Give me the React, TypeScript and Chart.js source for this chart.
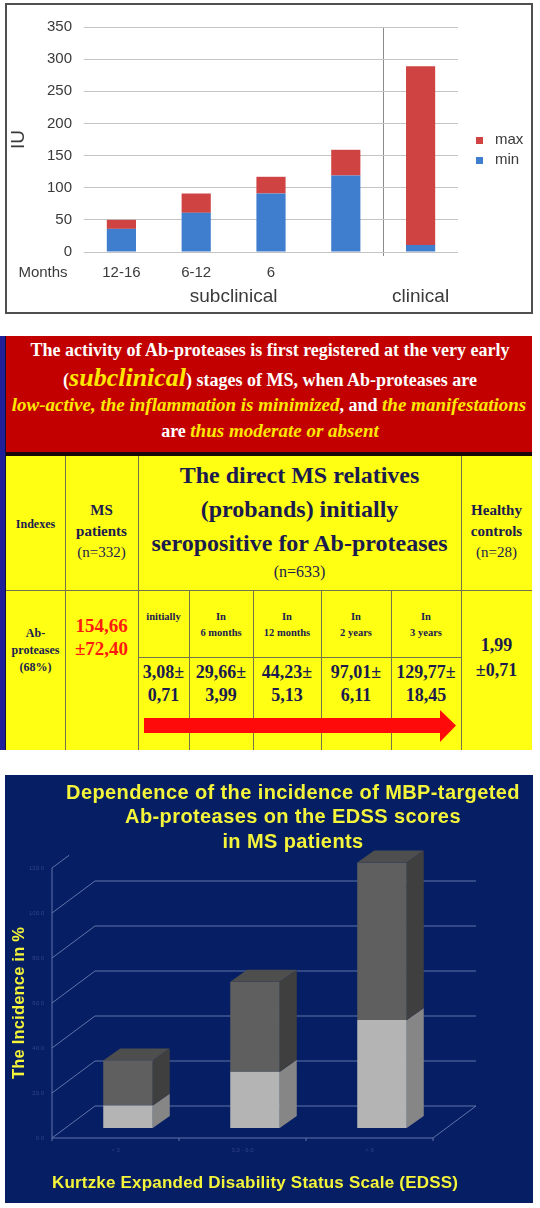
import React, { useEffect, useRef } from "react";
import { Chart, registerables } from "chart.js";

Chart.register(...registerables);

// ---------------- Top chart data ----------------
const stageLabels = ["12-16", "6-12", "6", "", ""];
const minSeries = [36, 61, 91, 119, 11];
const maxSeries = [14, 30, 26, 40, 278]; // stacked on top of min
const seriesNames = ["min", "max"];
const iuTickMax = 350;
const iuTickStep = 50;
const axisLeadLabel = "Months";
const phaseLabels = ["subclinical", "clinical"];
const iuTitle = "IU";

// ---------------- Table data ----------------
const headerLine1 = "The activity of Ab-proteases is first registered at the very early";
const periodLabels = [["initially"], ["In", "6 months"], ["In", "12 months"], ["In", "2 years"], ["In", "3 years"]];
const periodValues = [["3,08±", "0,71"], ["29,66±", "3,99"], ["44,23±", "5,13"], ["97,01±", "6,11"], ["129,77±", "18,45"]];
const msPatientsValue = ["154,66", "±72,40"];
const controlsValue = ["1,99", "±0,71"];
const relativesTitle = ["The direct MS relatives", "(probands) initially", "seropositive for Ab-proteases"];

// ---------------- EDSS chart data ----------------
const edssLabels = ["< 3", "3.0 - 6.0", "> 6"];
const edssLower = [10, 25, 48];
const edssUpper = [20, 40, 70];
const edssTicks = [0, 20, 40, 60, 80, 100, 120];
const edssTitle = ["Dependence of the incidence of MBP-targeted", "Ab-proteases on the EDSS scores", "in MS patients"];
const edssYTitle = "The Incidence in %";
const edssXTitle = "Kurtzke Expanded Disability Status Scale (EDSS)";

const SANS = "'Liberation Sans', Arial, sans-serif";
const SERIF = "'Liberation Serif', 'Times New Roman', serif";
const RED = "#cf4343";
const BLUE = "#3f7ecf";

function IUChart() {
  const ref = useRef<HTMLCanvasElement>(null);
  useEffect(() => {
    const extras = {
      id: "iuExtras",
      afterDraw(chart: any) {
        const { ctx, chartArea, scales } = chart;
        const x = scales.x;
        ctx.save();
        ctx.fillStyle = "#3a3a3a";
        ctx.textBaseline = "middle";
        ctx.textAlign = "center";
        ctx.font = `15px ${SANS}`;
        ctx.fillText(axisLeadLabel, 36, chartArea.bottom + 21);
        ctx.font = `19px ${SANS}`;
        const c0 = x.getPixelForValue(0);
        const c3 = x.getPixelForValue(3);
        const c4 = x.getPixelForValue(4);
        ctx.fillText(phaseLabels[0], (c0 + c3) / 2, chartArea.bottom + 45);
        ctx.fillText(phaseLabels[1], c4, chartArea.bottom + 45);
        // legend (max above min)
        const ds = [...chart.data.datasets].reverse();
        ctx.textAlign = "left";
        ctx.font = `15px ${SANS}`;
        ds.forEach((d: any, i: number) => {
          const yy = 135 + i * 20;
          ctx.fillStyle = d.backgroundColor;
          ctx.fillRect(469, yy - 3, 7, 7);
          ctx.fillStyle = "#3a3a3a";
          ctx.fillText(d.label, 488, yy);
        });
        ctx.restore();
      },
    };
    const chart = new Chart(ref.current!, {
      type: "bar",
      data: {
        labels: stageLabels,
        datasets: [
          { label: seriesNames[0], data: minSeries, backgroundColor: BLUE, barPercentage: 0.39, categoryPercentage: 1 },
          { label: seriesNames[1], data: maxSeries, backgroundColor: RED, barPercentage: 0.39, categoryPercentage: 1 },
        ],
      },
      options: {
        responsive: false,
        animation: false,
        layout: { padding: { right: 73, top: 22 } },
        plugins: { legend: { display: false }, tooltip: { enabled: false } },
        scales: {
          x: {
            stacked: true,
            grid: {
              color: (c: any) => (c.index === 4 ? "#8a8a8a" : "rgba(0,0,0,0)"),
              drawTicks: true,
              tickLength: 4,
            },
            border: { display: false },
            ticks: { color: "#3a3a3a", font: { size: 15, family: SANS }, padding: 8, maxRotation: 0 },
            afterFit: (s: any) => {
              s.height = 60;
            },
          },
          y: {
            stacked: true,
            min: 0,
            max: iuTickMax,
            ticks: { stepSize: iuTickStep, color: "#3a3a3a", font: { size: 15, family: SANS }, padding: 12 },
            grid: { color: "#c4c4c4", drawTicks: false },
            border: { display: false },
            title: { display: true, text: iuTitle, color: "#3a3a3a", font: { size: 19, family: SANS }, padding: 0 },
            afterFit: (s: any) => {
              s.width = 77;
            },
          },
        },
      },
      plugins: [extras],
    });
    return () => chart.destroy();
  }, []);
  return <canvas ref={ref} width={524} height={307} style={{ width: 524, height: 307, display: "block" }} />;
}

function EDSSChart() {
  const ref = useRef<HTMLCanvasElement>(null);
  useEffect(() => {
    const FRONT = { dx: -12.5, dy: 10 };
    const BACK = { dx: 30.5, dy: -22 };
    const BAR_D = { dx: 17, dy: -12 };
    const line = (ctx: any, x1: number, y1: number, x2: number, y2: number) => {
      ctx.beginPath();
      ctx.moveTo(x1, y1);
      ctx.lineTo(x2, y2);
      ctx.stroke();
    };
    const threeD = {
      id: "threeD",
      beforeDatasetsDraw(chart: any) {
        const { ctx, chartArea: a, scales } = chart;
        const y = scales.y;
        ctx.save();
        ctx.strokeStyle = "#6174ab";
        ctx.lineWidth = 1;
        ctx.font = `6px ${SANS}`;
        ctx.textAlign = "right";
        ctx.textBaseline = "middle";
        edssTicks.forEach((v, i) => {
          const yp = y.getPixelForValue(v);
          const fx = a.left + FRONT.dx;
          const fy = yp + FRONT.dy;
          const bx = a.left + BACK.dx;
          const by = yp + BACK.dy;
          const last = i === edssTicks.length - 1;
          const k = last ? 0.4 : 1;
          line(ctx, fx, fy, fx + (bx - fx) * k, fy + (by - fy) * k);
          if (!last) line(ctx, bx, by, a.right + BACK.dx, by);
          ctx.fillStyle = "#31438a";
          ctx.fillText(v.toFixed(1), fx - 8, fy);
        });
        const y0 = y.getPixelForValue(0);
        const yTop = y.getPixelForValue(edssTicks[edssTicks.length - 1]);
        const fl = a.left + FRONT.dx;
        const fr = a.right + FRONT.dx;
        line(ctx, fl, y0 + FRONT.dy, fl, yTop + FRONT.dy);
        line(ctx, fl, y0 + FRONT.dy, fr, y0 + FRONT.dy);
        line(ctx, fr, y0 + FRONT.dy, a.right + BACK.dx, y0 + BACK.dy);
        const cw = (a.right - a.left) / edssLabels.length;
        for (let i = 0; i <= edssLabels.length; i++) {
          const tx = fl + cw * i;
          line(ctx, tx, y0 + FRONT.dy, tx, y0 + FRONT.dy + 3);
        }
        ctx.textAlign = "center";
        ctx.fillStyle = "#31438a";
        edssLabels.forEach((lab, i) => {
          ctx.fillText(lab, chart.scales.x.getPixelForValue(i) + FRONT.dx, y0 + FRONT.dy + 12);
        });
        ctx.restore();
      },
      afterDatasetsDraw(chart: any) {
        const { ctx } = chart;
        const sides = ["#868686", "#3f3f3f"];
        const tops = ["#9a9a9a", "#4e4e4e"];
        ctx.save();
        const n = chart.data.datasets.length;
        chart.data.datasets.forEach((_: any, di: number) => {
          const meta = chart.getDatasetMeta(di);
          meta.data.forEach((el: any) => {
            const { x, y, base, width } = el.getProps(["x", "y", "base", "width"], true);
            const l = x - width / 2;
            const r = x + width / 2;
            const top = Math.min(y, base);
            const bot = Math.max(y, base);
            ctx.fillStyle = sides[di];
            ctx.beginPath();
            ctx.moveTo(r, top);
            ctx.lineTo(r + BAR_D.dx, top + BAR_D.dy);
            ctx.lineTo(r + BAR_D.dx, bot + BAR_D.dy);
            ctx.lineTo(r, bot);
            ctx.closePath();
            ctx.fill();
            if (di === n - 1) {
              ctx.fillStyle = tops[di];
              ctx.beginPath();
              ctx.moveTo(l, top);
              ctx.lineTo(l + BAR_D.dx, top + BAR_D.dy);
              ctx.lineTo(r + BAR_D.dx, top + BAR_D.dy);
              ctx.lineTo(r, top);
              ctx.closePath();
              ctx.fill();
            }
          });
        });
        ctx.restore();
      },
      afterDraw(chart: any) {
        const { ctx } = chart;
        ctx.save();
        ctx.fillStyle = "#f4f43a";
        ctx.textAlign = "center";
        ctx.textBaseline = "middle";
        ctx.font = `bold 20px ${SANS}`;
        (ctx as any).letterSpacing = "0.4px";
        edssTitle.forEach((t, i) => ctx.fillText(t, 288, 18 + i * 24.5));
        ctx.font = `bold 17px ${SANS}`;
        (ctx as any).letterSpacing = "0.2px";
        ctx.fillText(edssXTitle, 250, 408);
        ctx.translate(14, 228);
        ctx.rotate(-Math.PI / 2);
        ctx.font = `bold 16.5px ${SANS}`;
        ctx.fillText(edssYTitle, 0, 0);
        ctx.restore();
      },
    };
    const chart = new Chart(ref.current!, {
      type: "bar",
      data: {
        labels: edssLabels,
        datasets: [
          { label: "lower", data: edssLower, backgroundColor: "#b4b4b4", barPercentage: 0.39, categoryPercentage: 1 },
          { label: "upper", data: edssUpper, backgroundColor: "#5f5f5f", barPercentage: 0.39, categoryPercentage: 1 },
        ],
      },
      options: {
        responsive: false,
        animation: false,
        layout: { padding: { left: 59.5, right: 87.5, top: 83, bottom: 75 } },
        plugins: { legend: { display: false }, tooltip: { enabled: false } },
        scales: {
          x: { display: false, stacked: true },
          y: { display: false, stacked: true, min: 0, max: 120 },
        },
      },
      plugins: [threeD],
    });
    return () => chart.destroy();
  }, []);
  return <canvas ref={ref} width={528} height={428} style={{ width: 528, height: 428, display: "block" }} />;
}

function TextLines(props: { cx: number; cy: number; lh: number; lines: React.ReactNode[]; style?: React.CSSProperties; w?: number }) {
  const { cx, cy, lh, lines, style, w = 200 } = props;
  return (
    <>
      {lines.map((t, i) => (
        <div
          key={i}
          style={{
            position: "absolute",
            left: cx - w / 2,
            width: w,
            top: cy + i * lh - lh / 2,
            height: lh,
            lineHeight: lh + "px",
            textAlign: "center",
            whiteSpace: "nowrap",
            ...style,
          }}
        >
          {t}
        </div>
      ))}
    </>
  );
}

const box = (l: number, t: number, w: number, h: number, bg: string): React.CSSProperties => ({
  position: "absolute",
  left: l,
  top: t,
  width: w,
  height: h,
  background: bg,
});

function Table() {
  const ink = "#1b1b4d";
  const lineC = "#75754a";
  const yel: React.CSSProperties = { color: "#ffe800", fontStyle: "italic", fontSize: 19 };
  const colX = [138, 189, 253, 321, 391, 461];
  const subCenters = colX.slice(0, -1).map((x, i) => (x + colX[i + 1]) / 2);
  const hdr: React.CSSProperties = { fontFamily: SERIF, fontWeight: "bold", color: "#ffffff", fontSize: 18 };
  return (
    <>
      <div style={box(0, 336, 5, 414, "#1f1f99")} />
      <div style={box(5, 336, 1, 414, "#10103a")} />
      <div style={box(6, 336, 526, 116, "#c20000")} />
      <div style={box(6, 452, 526, 4, "#1a0808")} />
      <div style={box(6, 456, 526, 294, "#ffff14")} />
      <TextLines cx={270} cy={350} lh={28} w={540} style={hdr} lines={[headerLine1]} />
      <TextLines
        cx={270}
        cy={378}
        lh={28}
        w={540}
        style={hdr}
        lines={[
          <span>
            (<span style={{ ...yel, fontSize: 26 }}>subclinical</span>) stages of MS, when Ab-proteases are
          </span>,
        ]}
      />
      <TextLines
        cx={269}
        cy={405}
        lh={26}
        w={540}
        style={hdr}
        lines={[
          <span>
            <span style={yel}>low-active, the inflammation is minimized</span>, and <span style={yel}>the manifestations</span>
          </span>,
        ]}
      />
      <TextLines
        cx={270}
        cy={431}
        lh={26}
        w={540}
        style={hdr}
        lines={[
          <span>
            are <span style={yel}>thus moderate or absent</span>
          </span>,
        ]}
      />
      {/* grid lines */}
      {[65, 138, 461].map((x) => (
        <div key={x} style={box(x, 456, 1, 294, lineC)} />
      ))}
      {colX.slice(1, -1).map((x) => (
        <div key={x} style={box(x, 590, 1, 160, lineC)} />
      ))}
      <div style={box(6, 590, 526, 1, lineC)} />
      <div style={box(138, 657, 323, 1, lineC)} />
      {/* header row */}
      <TextLines cx={35.5} cy={524} lh={16} lines={["Indexes"]} style={{ fontFamily: SERIF, fontWeight: "bold", fontSize: 12, color: ink }} />
      <TextLines
        cx={101.5}
        cy={510}
        lh={21}
        lines={["MS", "patients", <span style={{ fontWeight: "normal" }}>(n=332)</span>]}
        style={{ fontFamily: SERIF, fontWeight: "bold", fontSize: 15, color: ink }}
      />
      <TextLines cx={299.5} cy={475} lh={34} w={330} lines={relativesTitle} style={{ fontFamily: SERIF, fontWeight: "bold", fontSize: 24, color: ink }} />
      <TextLines cx={299.5} cy={572} lh={20} lines={["(n=633)"]} style={{ fontFamily: SERIF, fontSize: 16, color: ink }} />
      <TextLines
        cx={496.5}
        cy={510}
        lh={21}
        lines={["Healthy", "controls", <span style={{ fontWeight: "normal" }}>(n=28)</span>]}
        style={{ fontFamily: SERIF, fontWeight: "bold", fontSize: 15, color: ink }}
      />
      {/* data row */}
      <TextLines cx={35.5} cy={633} lh={17} lines={["Ab-", "proteases", "(68%)"]} style={{ fontFamily: SERIF, fontWeight: "bold", fontSize: 12, color: ink }} />
      <TextLines cx={101.5} cy={625} lh={23} lines={msPatientsValue} style={{ fontFamily: SERIF, fontWeight: "bold", fontSize: 19, color: "#ff1a10" }} />
      {periodLabels.map((lines, i) => (
        <TextLines key={"p" + i} cx={subCenters[i]} cy={617} lh={16} w={70} lines={lines} style={{ fontFamily: SERIF, fontWeight: "bold", fontSize: 10.5, color: ink }} />
      ))}
      {periodValues.map((lines, i) => (
        <TextLines key={"v" + i} cx={subCenters[i]} cy={672} lh={23} w={70} lines={lines} style={{ fontFamily: SERIF, fontWeight: "bold", fontSize: 18, color: ink }} />
      ))}
      <TextLines cx={496.5} cy={645} lh={25} lines={controlsValue} style={{ fontFamily: SERIF, fontWeight: "bold", fontSize: 18, color: ink }} />
      <svg style={{ position: "absolute", left: 0, top: 700 }} width={540} height={50}>
        <polygon points="144,18 440,18 440,10 456,25.5 440,42 440,33 144,33" fill="#ff0a0a" />
      </svg>
    </>
  );
}

export default function App() {
  return (
    <div style={{ position: "absolute", left: 0, top: 0, width: 540, height: 1208, background: "#ffffff", overflow: "hidden" }}>
      <div style={{ position: "absolute", left: 5, top: 3, width: 524, height: 307, border: "2px solid #4f4f4f", background: "#fff" }}>
        <IUChart />
      </div>
      <Table />
      <div style={{ position: "absolute", left: 5, top: 775, width: 528, height: 428, background: "#061e63" }}>
        <EDSSChart />
      </div>
    </div>
  );
}
